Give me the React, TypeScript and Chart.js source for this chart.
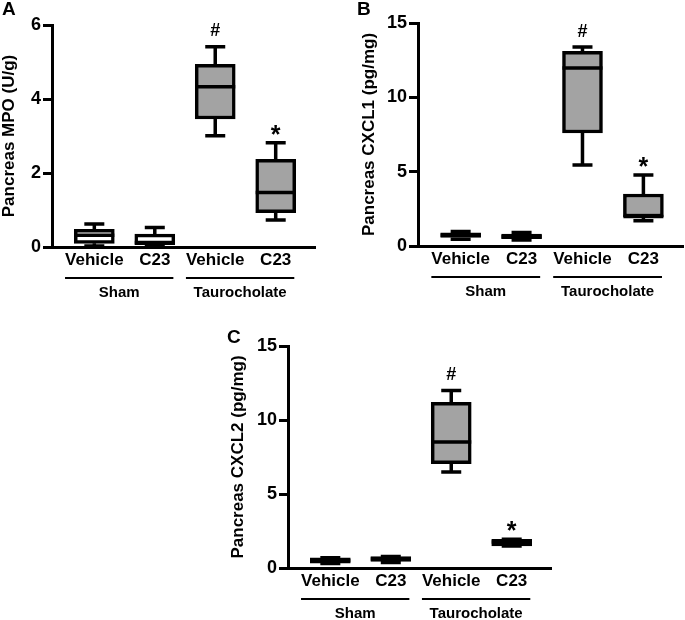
import React, { useEffect, useRef } from "react";
import { Chart, registerables } from "chart.js";

Chart.register(...registerables);

const FONT = "'Liberation Sans', Arial, Helvetica, sans-serif";

// ---- shared categories ----
const categories = ["Vehicle", "C23", "Vehicle", "C23"];
const groupNames = ["Sham", "Taurocholate"];
const groupMembers = [[0, 1], [2, 3]];
const boxFills = ["#ffffff", "#ffffff", "#a3a3a3", "#a3a3a3"];

// ---- Panel A: Pancreas MPO (U/g) ----
const mpoMin = [0.03, 0.02, 3.01, 0.73];
const mpoQ1 = [0.1, 0.06, 3.46, 0.93];
const mpoMed = [0.32, 0.12, 4.33, 1.47];
const mpoQ3 = [0.48, 0.35, 4.94, 2.37];
const mpoMax = [0.62, 0.53, 5.41, 2.82];
const mpoMarks = ["", "", "#", "*"];
const mpoTicks = [0, 2, 4, 6];

// ---- Panel B: Pancreas CXCL1 (pg/mg) ----
const cxcl1Min = [0.45, 0.4, 5.45, 1.7];
const cxcl1Q1 = [0.57, 0.5, 7.6, 1.95];
const cxcl1Med = [0.72, 0.62, 11.98, 1.98];
const cxcl1Q3 = [0.88, 0.8, 13.1, 3.5];
const cxcl1Max = [0.98, 0.9, 13.38, 4.78];
const cxcl1Marks = ["", "", "#", "*"];
const cxcl1Ticks = [0, 5, 10, 15];

// ---- Panel C: Pancreas CXCL2 (pg/mg) ----
const cxcl2Min = [0.3, 0.38, 6.49, 1.48];
const cxcl2Q1 = [0.32, 0.45, 7.05, 1.5];
const cxcl2Med = [0.5, 0.6, 8.51, 1.75];
const cxcl2Q3 = [0.68, 0.77, 11.2, 1.93];
const cxcl2Max = [0.7, 0.78, 12.0, 1.95];
const cxcl2Marks = ["", "", "#", "*"];
const cxcl2Ticks = [0, 5, 10, 15];

type Panel = {
  letter: string;
  yTitle: string;
  yMax: number;
  yTicks: number[];
  mins: number[];
  q1s: number[];
  meds: number[];
  q3s: number[];
  maxs: number[];
  marks: string[];
  // layout
  left: number;
  top: number;
  width: number;
  height: number;
  pad: { left: number; top: number; right: number };
  yWidth: number;
  xHeight: number;
  letterX: number;
  letterY: number;
};

const panels: Panel[] = [
  {
    letter: "A", yTitle: "Pancreas MPO (U/g)", yMax: 6, yTicks: mpoTicks,
    mins: mpoMin, q1s: mpoQ1, meds: mpoMed, q3s: mpoQ3, maxs: mpoMax, marks: mpoMarks,
    left: 0, top: 0, width: 340, height: 310,
    pad: { left: 0, top: 25, right: 25 }, yWidth: 52, xHeight: 63,
    letterX: 2, letterY: 15,
  },
  {
    letter: "B", yTitle: "Pancreas CXCL1 (pg/mg)", yMax: 15, yTicks: cxcl1Ticks,
    mins: cxcl1Min, q1s: cxcl1Q1, meds: cxcl1Med, q3s: cxcl1Q3, maxs: cxcl1Max, marks: cxcl1Marks,
    left: 350, top: 0, width: 335, height: 310,
    pad: { left: 10, top: 23, right: 2 }, yWidth: 58, xHeight: 64,
    letterX: 7, letterY: 15,
  },
  {
    letter: "C", yTitle: "Pancreas CXCL2 (pg/mg)", yMax: 15, yTicks: cxcl2Ticks,
    mins: cxcl2Min, q1s: cxcl2Q1, meds: cxcl2Med, q3s: cxcl2Q3, maxs: cxcl2Max, marks: cxcl2Marks,
    left: 220, top: 300, width: 340, height: 320,
    pad: { left: 9, top: 46, right: 9 }, yWidth: 59, xHeight: 52,
    letterX: 7, letterY: 43,
  },
];

const LW = 3.5;

function makePlugin(p: Panel) {
  return {
    id: "boxExtras" + p.letter,
    beforeDatasetsDraw(chart: any) {
      const xs = chart.scales.x, ys = chart.scales.y, ctx = chart.ctx;
      ctx.save();
      ctx.strokeStyle = "#000";
      ctx.lineWidth = LW;
      p.mins.forEach((mn, i) => {
        const x = xs.getPixelForValue(i);
        const yMin = ys.getPixelForValue(mn);
        const yQ1 = ys.getPixelForValue(p.q1s[i]);
        const yQ3 = ys.getPixelForValue(p.q3s[i]);
        const yMax = ys.getPixelForValue(p.maxs[i]);
        ctx.beginPath();
        ctx.moveTo(x, yQ3); ctx.lineTo(x, yMax);
        ctx.moveTo(x - 10, yMax); ctx.lineTo(x + 10, yMax);
        ctx.moveTo(x, yQ1); ctx.lineTo(x, yMin);
        ctx.moveTo(x - 10, yMin); ctx.lineTo(x + 10, yMin);
        ctx.stroke();
      });
      ctx.restore();
    },
    afterDatasetsDraw(chart: any) {
      const xs = chart.scales.x, ys = chart.scales.y, ctx = chart.ctx;
      ctx.save();
      ctx.strokeStyle = "#000";
      ctx.lineWidth = LW;
      p.meds.forEach((md, i) => {
        const x = xs.getPixelForValue(i);
        const y = ys.getPixelForValue(md);
        ctx.beginPath();
        ctx.moveTo(x - 20, y); ctx.lineTo(x + 20, y);
        ctx.stroke();
      });
      ctx.fillStyle = "#000";
      ctx.textAlign = "center";
      ctx.textBaseline = "alphabetic";
      p.marks.forEach((m, i) => {
        if (!m) return;
        const x = xs.getPixelForValue(i);
        const yMax = ys.getPixelForValue(p.maxs[i]);
        ctx.font = m === "*" ? `bold 25px ${FONT}` : `bold 18px ${FONT}`;
        const met = ctx.measureText(m);
        const center = yMax - (m === "*" ? 13 : 17);
        const base = center + (met.actualBoundingBoxAscent - met.actualBoundingBoxDescent) / 2;
        ctx.fillText(m, x, base);
      });
      ctx.restore();
    },
    afterDraw(chart: any) {
      const xs = chart.scales.x, ctx = chart.ctx;
      const axisY = chart.chartArea.bottom;
      ctx.save();
      ctx.fillStyle = "#000";
      ctx.strokeStyle = "#000";
      groupMembers.forEach((mem, g) => {
        ctx.font = `bold 17px ${FONT}`;
        const a = mem[0], b = mem[mem.length - 1];
        const xa = xs.getPixelForValue(a) - ctx.measureText(categories[a]).width / 2;
        const xb = xs.getPixelForValue(b) + ctx.measureText(categories[b]).width / 2 + 3;
        ctx.lineWidth = 2;
        ctx.beginPath();
        ctx.moveTo(xa, axisY + 31); ctx.lineTo(xb, axisY + 31);
        ctx.stroke();
        ctx.font = `bold 15px ${FONT}`;
        ctx.textAlign = "center";
        ctx.textBaseline = "middle";
        ctx.fillText(groupNames[g], (xa + xb) / 2, axisY + 46);
      });
      ctx.font = `bold 19px ${FONT}`;
      ctx.textAlign = "left";
      ctx.textBaseline = "alphabetic";
      ctx.fillText(p.letter, p.letterX, p.letterY);
      ctx.restore();
    },
  };
}

function BoxPanel({ p }: { p: Panel }) {
  const ref = useRef<HTMLCanvasElement>(null);
  useEffect(() => {
    if (!ref.current) return;
    const chart = new Chart(ref.current, {
      type: "bar",
      data: {
        datasets: [
          {
            data: categories.map((_, i) => ({ x: i, y: [p.q1s[i], p.q3s[i]] })) as any,
            backgroundColor: boxFills,
            borderColor: "#000",
            borderWidth: LW,
            borderSkipped: false,
            barThickness: 40,
          },
        ],
      },
      options: {
        responsive: false,
        animation: false,
        layout: { padding: { left: p.pad.left, top: p.pad.top, right: p.pad.right, bottom: 0 } },
        plugins: { legend: { display: false }, tooltip: { enabled: false }, title: { display: false } },
        scales: {
          x: {
            type: "linear",
            min: -0.7,
            max: 3.65,
            offset: false,
            afterBuildTicks: (s: any) => { s.ticks = categories.map((_, i) => ({ value: i })); },
            afterFit: (s: any) => { s.height = p.xHeight; s.paddingLeft = 0; s.paddingRight = 0; },
            ticks: {
              autoSkip: false,
              maxRotation: 0,
              padding: 3,
              color: "#000",
              font: { family: FONT, size: 17, weight: "bold" },
              callback: (v: any) => categories[v as number] ?? "",
            },
            grid: { display: false, drawTicks: false },
            border: { display: true, width: 3, color: "#000" },
          },
          y: {
            type: "linear",
            min: 0,
            max: p.yMax,
            afterBuildTicks: (s: any) => { s.ticks = p.yTicks.map((v) => ({ value: v })); },
            afterFit: (s: any) => { s.width = p.yWidth; s.paddingTop = 0; s.paddingBottom = 0; },
            ticks: {
              padding: 2,
              color: "#000",
              font: { family: FONT, size: 18, weight: "bold" },
            },
            grid: { drawOnChartArea: false, drawTicks: true, tickLength: 9, lineWidth: 3, color: "#000" },
            border: { display: true, width: 3, color: "#000" },
            title: {
              display: true,
              text: p.yTitle,
              color: "#000",
              padding: 0,
              font: { family: FONT, size: 17, weight: "bold", lineHeight: 1.1 },
            },
          },
        },
      } as any,
      plugins: [makePlugin(p)],
    });
    return () => chart.destroy();
  }, [p]);
  return (
    <div style={{ position: "absolute", left: p.left, top: p.top, width: p.width, height: p.height }}>
      <canvas ref={ref} width={p.width} height={p.height} style={{ display: "block" }} />
    </div>
  );
}

export default function App() {
  return (
    <div style={{ position: "absolute", left: 0, top: 0, width: 685, height: 620, background: "#fff" }}>
      {panels.map((p) => (
        <BoxPanel key={p.letter} p={p} />
      ))}
    </div>
  );
}
